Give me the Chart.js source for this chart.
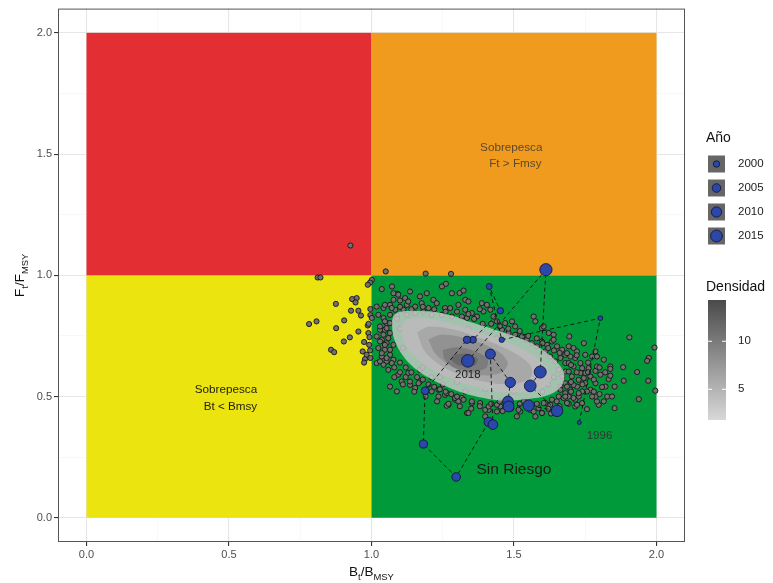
<!DOCTYPE html>
<html>
<head>
<meta charset="utf-8">
<script src="https://cdn.jsdelivr.net/npm/chart.js@4.4.1/dist/chart.umd.min.js"></script>
<style>
  html, body { margin: 0; padding: 0; background: #fff; }
  #wrap { width: 773px; height: 583px; }
</style>
</head>
<body>
<div id="wrap"><canvas id="kobe" width="773" height="583"></canvas></div>
<script>
// ejes
var xTicks = [0, 0.5, 1, 1.5, 2];
var yTicks = [0, 0.5, 1, 1.5, 2];
var gridVals = [0, 0.25, 0.5, 0.75, 1, 1.25, 1.5, 1.75, 2];
var quadB = [0, 1, 2];
var quadF = [0, 1, 2];

// trayectoria anual
var trajYear = [1996, 1997, 1998, 1999, 2000, 2001, 2002, 2003, 2004, 2005, 2007,
                2008, 2009, 2010, 2011, 2012, 2013, 2014, 2015, 2016, 2017, 2018];
var trajB = [1.729, 1.803, 1.457, 1.413, 1.452, 1.356, 1.335, 1.188, 1.182, 1.297, 1.411,
             1.426, 1.417, 1.487, 1.479, 1.481, 1.551, 1.651, 1.557, 1.592, 1.612, 1.338];
var trajF = [0.393, 0.823, 0.734, 0.954, 0.854, 0.734, 0.734, 0.524, 0.304, 0.168, 0.395,
             0.384, 0.675, 0.558, 0.480, 0.459, 0.463, 0.441, 0.544, 0.601, 1.023, 0.647];

// legenda
var legendYears = [2000, 2005, 2010, 2015];
var densTicks = [5, 10];
var densRange = [1.8, 14.3];

// simulaciones del ultimo año (B/Bmsy, F/Fmsy)
var mcPoints = [
  [0.926,1.123],[0.811,0.991],[0.821,0.991],[1.050,1.016],[1.001,0.981],[0.995,0.970],[0.987,0.961],
  [0.875,0.882],[0.932,0.902],[0.948,0.906],[0.944,0.888],[0.928,0.854],[0.954,0.854],[0.963,0.834],
  [0.996,0.861],[0.996,0.836],[0.781,0.799],[0.807,0.810],[0.904,0.814],[0.876,0.782],[0.954,0.768],
  [0.924,0.744],[0.903,0.727],[0.987,0.793],[0.989,0.762],[0.974,0.725],[0.992,0.713],[0.858,0.693],
  [0.869,0.683],[0.969,0.686],[0.983,0.672],[0.977,0.654],[0.974,0.640],[0.996,0.659],[0.990,0.800],
  [0.993,0.745],[0.995,0.690],
  [1.036,0.943],[1.072,0.954],[1.091,0.924],[1.077,0.899],[1.100,0.896],[1.118,0.906],[1.018,0.871],
  [1.042,0.865],[1.065,0.878],[1.083,0.858],[1.112,0.858],[1.124,0.878],[1.024,0.837],[1.042,0.824],
  [1.065,0.837],[1.089,0.833],[1.053,0.803],[1.030,0.775],[1.047,0.775],[1.065,0.762],[1.018,0.748],
  [1.036,0.734],[1.053,0.720],[1.077,0.713],[1.024,0.700],[1.047,0.693],[1.065,0.672],[1.036,0.665],
  [1.053,0.645],[1.077,0.652],[1.018,0.638],[1.042,0.631],
  [1.077,0.926],[1.135,0.933],[1.170,0.913],[1.194,0.926],[1.217,0.899],[1.247,0.954],[1.282,0.926],
  [1.329,0.899],[1.129,0.892],[1.153,0.871],[1.176,0.885],[1.200,0.865],[1.229,0.885],[1.258,0.865],
  [1.276,0.865],[1.305,0.878],[1.329,0.858],[1.047,0.878],[1.071,0.865],[1.124,0.837],[1.153,0.844],
  [1.182,0.851],[1.211,0.837],[1.247,0.837],[1.282,0.830],[1.317,0.830],[1.001,0.824],[1.047,0.810],
  [1.065,0.803],[1.030,0.789],[1.053,0.782],[1.042,0.755],[1.059,0.741],[1.030,0.727],[1.047,0.713],
  [1.065,0.693],[1.036,0.679],[1.053,0.659],[1.071,0.638],[1.030,0.645],[1.059,0.610],[1.094,0.590],
  [1.129,0.597],[1.106,0.562],[1.135,0.548],[1.170,0.562],[1.153,0.535],[1.089,0.521],[1.065,0.541],
  [1.211,0.521],[1.235,0.500],[1.258,0.507],[1.270,0.466],[1.293,0.487],[1.317,0.494],[1.329,0.521],
  [1.190,1.007],[1.279,1.006],[1.094,0.920],[1.261,0.965],[1.309,0.927],[1.323,0.937],
  [1.340,0.892],[1.387,0.885],[1.405,0.878],[1.417,0.858],[1.393,0.851],[1.352,0.844],[1.370,0.830],
  [1.335,0.824],[1.428,0.830],[1.440,0.810],[1.469,0.803],[1.493,0.810],[1.504,0.789],[1.458,0.775],
  [1.481,0.762],[1.504,0.755],[1.528,0.748],[1.545,0.734],[1.569,0.830],[1.575,0.810],[1.598,0.782],
  [1.622,0.762],[1.639,0.755],[1.563,0.720],[1.581,0.707],[1.598,0.727],[1.616,0.713],[1.633,0.727],
  [1.651,0.707],[1.669,0.693],[1.680,0.672],[1.610,0.686],[1.627,0.665],[1.645,0.645],[1.663,0.659],
  [1.680,0.638],[1.657,0.610],[1.680,0.603],[1.669,0.583],[1.680,0.555],[1.663,0.541],[1.680,0.514],
  [1.657,0.500],[1.633,0.487],[1.610,0.473],[1.586,0.452],[1.598,0.432],[1.575,0.418],[1.557,0.445],
  [1.522,0.438],[1.510,0.418],[1.452,0.459],[1.440,0.438],[1.411,0.445],[1.399,0.418],[1.381,0.473],
  [1.352,0.473],[1.335,0.432],
  [1.905,0.744],[1.993,0.702],[1.973,0.659],[1.967,0.647],[1.883,0.621],[1.932,0.601],[1.971,0.565],
  [1.996,0.524],[1.938,0.489],[1.885,0.565],[1.853,0.541],[1.853,0.452],[1.838,0.624],[1.838,0.614],
  [1.832,0.572],[1.838,0.586],[1.821,0.541],[1.809,0.539],[1.827,0.500],[1.844,0.500],[1.815,0.480],
  [1.797,0.466],[1.791,0.480],[1.786,0.500],[1.774,0.500],[1.768,0.528],[1.756,0.521],[1.739,0.521],
  [1.727,0.500],[1.715,0.487],[1.692,0.470],[1.756,0.448],[1.803,0.590],[1.786,0.606],[1.791,0.624],
  [1.762,0.617],[1.733,0.638],[1.739,0.617],[1.750,0.597],[1.768,0.583],[1.786,0.555],[1.750,0.555],
  [1.727,0.569],[1.703,0.583],[1.692,0.603],[1.709,0.624],[1.692,0.638],[1.715,0.659],[1.698,0.665],
  [1.750,0.672],[1.774,0.665],[1.786,0.686],[1.791,0.665],[1.692,0.707],[1.709,0.700],[1.721,0.686],
  [1.686,0.679],[1.733,0.597],[1.745,0.576],[1.721,0.541],[1.698,0.528],[1.692,0.500],[1.715,0.459],
  [1.739,0.473],[1.604,0.789],[1.639,0.734],[1.694,0.748],[1.745,0.720],[1.815,0.652],
  [1.135,0.562],[1.165,0.555],[1.235,0.528],[1.264,0.514],[1.293,0.494],[1.305,0.480],[1.323,0.487],
  [1.352,0.480],[1.399,0.445],[1.411,0.459],[1.340,0.432],[1.264,0.462],[1.440,0.466],[1.487,0.473],
  [1.516,0.445],[1.534,0.480],[1.569,0.438],[1.598,0.432],[1.604,0.473],[1.627,0.466],[1.674,0.494],
  [1.686,0.473],[1.709,0.494],[1.721,0.466],[1.663,0.528],[1.686,0.541],[1.709,0.548],[1.727,0.514],
  [1.100,0.600],[1.120,0.580],[1.140,0.600],[1.160,0.580],[1.180,0.570],[1.200,0.550],[1.220,0.540],
  [1.240,0.530],[1.260,0.520],[1.280,0.510],[1.300,0.500],[1.080,0.620],[1.100,0.640],[1.120,0.620],
  [1.080,0.580],[1.110,0.550],[1.150,0.520],[1.190,0.500],[1.230,0.480],[1.270,0.470],[1.310,0.460],
  [1.350,0.450],[1.380,0.460],[1.420,0.470],[1.450,0.480],[1.250,0.550],[1.210,0.580],[1.170,0.610],
  [1.360,0.820],[1.390,0.800],[1.420,0.800],[1.450,0.790],[1.480,0.780],[1.520,0.770],[1.550,0.750],
  [1.580,0.740],[1.600,0.720],[1.620,0.700],[1.640,0.690],[1.660,0.680],[1.300,0.850],[1.340,0.840],
  [1.380,0.860],[1.260,0.850],[1.220,0.860],[1.180,0.870],[1.140,0.860],[1.100,0.870],
  [1.700,0.560],[1.720,0.600],[1.740,0.550],[1.760,0.600],[1.780,0.570],[1.700,0.630],[1.720,0.670],
  [1.760,0.640],[1.800,0.620],[1.820,0.600],[1.780,0.520],[1.800,0.510],[1.700,0.520],[1.680,0.500],
  [1.650,0.480],[1.620,0.450],[1.580,0.470],[1.550,0.470],[1.520,0.470],[1.490,0.450],[1.460,0.440],
  [1.630,0.430],[1.660,0.460],
  [1.120,0.750],[1.150,0.700],[1.180,0.780],[1.200,0.720],[1.220,0.660],[1.250,0.780],[1.280,0.740],
  [1.300,0.700],[1.330,0.620],[1.360,0.580],[1.380,0.700],[1.400,0.640],[1.430,0.600],[1.450,0.660],
  [1.470,0.550],[1.500,0.620],[1.520,0.580],[1.550,0.650],[1.580,0.560],[1.600,0.600],[1.620,0.550],
  [1.180,0.620],[1.240,0.580],[1.300,0.560],[1.400,0.530],[1.500,0.520],[1.560,0.530],[1.100,0.780],
  [1.340,0.780],[1.440,0.740],[1.090,0.820],[1.110,0.700],[1.140,0.810],[1.600,0.520],[1.640,0.580]
];

// contornos de densidad (de afuera hacia adentro)
var dens1 = [[1.072,0.812],[1.080,0.838],[1.100,0.850],[1.150,0.854],[1.229,0.848],[1.290,0.831],
  [1.346,0.807],[1.420,0.781],[1.498,0.751],[1.570,0.715],[1.627,0.669],[1.664,0.623],[1.677,0.590],
  [1.669,0.548],[1.641,0.517],[1.600,0.499],[1.557,0.491],[1.503,0.485],[1.463,0.483],[1.410,0.490],
  [1.346,0.506],[1.290,0.528],[1.229,0.560],[1.172,0.598],[1.128,0.642],[1.094,0.698],[1.075,0.756],
  [1.072,0.812]];
var dens2 = [[1.105,0.795],[1.125,0.818],[1.180,0.824],[1.260,0.808],[1.340,0.780],[1.420,0.749],
  [1.500,0.713],[1.570,0.668],[1.617,0.617],[1.630,0.575],[1.603,0.538],[1.550,0.522],[1.480,0.518],
  [1.410,0.527],[1.340,0.546],[1.270,0.578],[1.200,0.620],[1.145,0.672],[1.112,0.730],[1.105,0.795]];
var dens3 = [[1.160,0.765],[1.200,0.788],[1.280,0.778],[1.360,0.750],[1.440,0.715],[1.510,0.674],
  [1.558,0.627],[1.561,0.585],[1.522,0.557],[1.450,0.552],[1.380,0.565],[1.310,0.590],[1.240,0.630],
  [1.185,0.690],[1.160,0.765]];
var dens4 = [[1.200,0.735],[1.240,0.755],[1.315,0.745],[1.390,0.718],[1.450,0.682],[1.478,0.640],
  [1.462,0.603],[1.410,0.587],[1.340,0.597],[1.275,0.628],[1.222,0.680],[1.200,0.735]];
var dens5 = [[1.250,0.692],[1.300,0.703],[1.360,0.688],[1.407,0.656],[1.402,0.618],[1.350,0.603],
  [1.292,0.618],[1.256,0.655],[1.250,0.692]];
var dens6 = [[1.283,0.670],[1.330,0.677],[1.372,0.656],[1.362,0.628],[1.310,0.628],[1.283,0.648],
  [1.283,0.670]];

var FONT = "'Liberation Sans', Arial, sans-serif";

function yearRadius(y) {
  return Math.sqrt(4 + 1.62 * (y - 1996));
}

function toXY(arr) {
  return arr.map(function (p) { return { x: p[0], y: p[1] }; });
}

var trajData = trajB.map(function (b, i) { return { x: b, y: trajF[i] }; });

var densColors = ['rgba(204,204,204,0.8)', 'rgba(186,186,186,0.9)', 'rgba(166,166,166,0.92)',
                  'rgba(145,145,145,0.94)', 'rgba(123,123,123,0.95)', 'rgba(104,104,104,0.95)'];
var densSets = [dens1, dens2, dens3, dens4, dens5, dens6].map(function (d, i) {
  return {
    type: 'line',
    data: toXY(d),
    showLine: true,
    fill: 'shape',
    backgroundColor: densColors[i],
    borderWidth: 0,
    borderColor: 'rgba(0,0,0,0)',
    pointRadius: 0,
    tension: 0.3,
    order: 7 - i
  };
});

function drawSub(ctx, parts, x, y, size) {
  var w = 0;
  parts.forEach(function (p) {
    ctx.font = (p[1] ? size * 0.7 : size) + 'px ' + FONT;
    w += ctx.measureText(p[0]).width;
  });
  var cx = x - w / 2;
  ctx.textAlign = 'left';
  ctx.textBaseline = 'alphabetic';
  parts.forEach(function (p) {
    ctx.font = (p[1] ? size * 0.7 : size) + 'px ' + FONT;
    ctx.fillText(p[0], cx, y + (p[1] ? size * 0.3 : 0));
    cx += ctx.measureText(p[0]).width;
  });
}

var kobePlugin = {
  id: 'kobe',
  beforeDatasetsDraw: function (chart) {
    var ctx = chart.ctx, xs = chart.scales.x, ys = chart.scales.y;
    var cols = [['#ebe40e', '#e32f33'], ['#009a3a', '#f09b1e']];
    ctx.save();
    for (var i = 0; i < 2; i++) {
      for (var j = 0; j < 2; j++) {
        var x0 = xs.getPixelForValue(quadB[i]), x1 = xs.getPixelForValue(quadB[i + 1]);
        var y0 = ys.getPixelForValue(quadF[j + 1]), y1 = ys.getPixelForValue(quadF[j]);
        ctx.fillStyle = cols[i][j];
        ctx.fillRect(x0, y0, x1 - x0, y1 - y0);
      }
    }
    ctx.restore();
  },
  afterDatasetsDraw: function (chart) {
    var ctx = chart.ctx, xs = chart.scales.x, ys = chart.scales.y;
    ctx.save();
    ctx.textBaseline = 'middle';
    ctx.textAlign = 'left';
    ctx.font = '11.7px ' + FONT;
    ctx.fillStyle = '#5b4a2e';
    ctx.fillText('Sobrepesca', xs.getPixelForValue(1.381), ys.getPixelForValue(1.527));
    ctx.fillText('Ft > Fmsy', xs.getPixelForValue(1.413), ys.getPixelForValue(1.460));
    ctx.fillStyle = '#1e1e10';
    ctx.fillText('Sobrepesca', xs.getPixelForValue(0.380), ys.getPixelForValue(0.528));
    ctx.fillText('Bt < Bmsy', xs.getPixelForValue(0.411), ys.getPixelForValue(0.458));
    ctx.textAlign = 'center';
    ctx.fillStyle = '#1a1a1a';
    ctx.font = '15.5px ' + FONT;
    ctx.fillText('Sin Riesgo', xs.getPixelForValue(1.50), ys.getPixelForValue(0.198));
    ctx.font = '11.5px ' + FONT;
    ctx.fillStyle = '#222';
    var last = trajData.length - 1;
    ctx.fillText(String(trajYear[last]), xs.getPixelForValue(trajB[last]), ys.getPixelForValue(trajF[last] - 0.058));
    ctx.fillStyle = '#333';
    ctx.fillText(String(trajYear[0]), xs.getPixelForValue(trajB[0] + 0.071), ys.getPixelForValue(trajF[0] - 0.057));
    ctx.restore();
  },
  afterDraw: function (chart) {
    var ctx = chart.ctx, a = chart.chartArea;
    ctx.save();
    // borde del panel
    ctx.strokeStyle = '#555';
    ctx.lineWidth = 1;
    ctx.strokeRect(a.left + 0.5, a.top + 0.5, a.right - a.left - 1, a.bottom - a.top - 1);
    // titulos de ejes
    ctx.fillStyle = '#111';
    drawSub(ctx, [['B', 0], ['t', 1], ['/B', 0], ['MSY', 1]], (a.left + a.right) / 2, 576, 13.5);
    ctx.translate(24, (a.top + a.bottom) / 2);
    ctx.rotate(-Math.PI / 2);
    drawSub(ctx, [['F', 0], ['t', 1], ['/F', 0], ['MSY', 1]], 0, 0, 13.5);
    ctx.restore();

    // leyenda Año
    ctx.save();
    ctx.fillStyle = '#111';
    ctx.font = '14px ' + FONT;
    ctx.textAlign = 'left';
    ctx.textBaseline = 'middle';
    ctx.fillText('Año', 706, 138);
    legendYears.forEach(function (yr, i) {
      var cy = 164 + i * 24;
      ctx.fillStyle = '#666';
      ctx.fillRect(708, cy - 8.5, 17, 17);
      ctx.beginPath();
      ctx.arc(716.5, cy, yearRadius(yr), 0, Math.PI * 2);
      ctx.fillStyle = '#2a47a9';
      ctx.fill();
      ctx.strokeStyle = '#101030';
      ctx.lineWidth = 0.8;
      ctx.stroke();
      ctx.fillStyle = '#222';
      ctx.font = '11.5px ' + FONT;
      ctx.fillText(String(yr), 738, cy);
    });
    // leyenda Densidad
    ctx.font = '14px ' + FONT;
    ctx.fillStyle = '#111';
    ctx.fillText('Densidad', 706, 287);
    var top = 300, bot = 420;
    var g = ctx.createLinearGradient(0, top, 0, bot);
    g.addColorStop(0, '#4a4a4a');
    g.addColorStop(1, '#d8d8d8');
    ctx.fillStyle = g;
    ctx.fillRect(708, top, 18, bot - top);
    densTicks.forEach(function (v) {
      var ty = bot - (v - densRange[0]) / (densRange[1] - densRange[0]) * (bot - top);
      ctx.strokeStyle = '#fff';
      ctx.lineWidth = 1;
      ctx.beginPath();
      ctx.moveTo(708, ty); ctx.lineTo(712, ty);
      ctx.moveTo(722, ty); ctx.lineTo(726, ty);
      ctx.stroke();
      ctx.fillStyle = '#222';
      ctx.font = '11.5px ' + FONT;
      ctx.fillText(String(v), 738, ty);
    });
    ctx.restore();
  }
};

function isMajor(v, list) {
  return list.some(function (t) { return Math.abs(t - v) < 1e-6; });
}

function axisOpts(majors, fitFn) {
  return {
    type: 'linear',
    min: -0.1,
    max: 2.1,
    afterBuildTicks: function (s) {
      s.ticks = gridVals.map(function (v) { return { value: v }; });
    },
    afterFit: fitFn,
    border: { display: false },
    grid: {
      color: function (c) { return isMajor(c.tick.value, majors) ? '#e6e6e6' : '#f3f3f3'; },
      lineWidth: function (c) { return isMajor(c.tick.value, majors) ? 1.1 : 0.6; },
      tickColor: function (c) { return isMajor(c.tick.value, majors) ? '#333' : 'rgba(0,0,0,0)'; },
      tickLength: 4,
      drawTicks: true
    },
    ticks: {
      autoSkip: false,
      maxRotation: 0,
      padding: 2,
      color: '#4d4d4d',
      font: { family: FONT, size: 11 },
      callback: function (v) { return isMajor(v, majors) ? v.toFixed(1) : ''; }
    }
  };
}

new Chart(document.getElementById('kobe').getContext('2d'), {
  type: 'scatter',
  data: {
    datasets: [
      {
        data: trajData,
        pointRadius: function (c) { return yearRadius(trajYear[c.dataIndex]); },
        pointBackgroundColor: '#2a47a9',
        pointBorderColor: '#101030',
        pointBorderWidth: 0.8,
        order: 0
      },
      {
        type: 'line',
        data: trajData,
        showLine: true,
        fill: false,
        borderColor: '#111',
        borderWidth: 0.9,
        borderDash: [4, 3],
        pointRadius: 0,
        tension: 0,
        order: 1
      }
    ].concat(densSets).concat([
      {
        data: toXY(mcPoints),
        pointRadius: 2.6,
        pointBackgroundColor: '#717171',
        pointBorderColor: '#151515',
        pointBorderWidth: 0.9,
        order: 8
      }
    ])
  },
  options: {
    responsive: false,
    animation: false,
    layout: { padding: { top: 8, right: 88, left: 0, bottom: 0 } },
    plugins: {
      legend: { display: false },
      tooltip: { enabled: false }
    },
    scales: {
      x: axisOpts(xTicks, function (s) { s.height = 41; }),
      y: axisOpts(yTicks, function (s) { s.width = 58; })
    }
  },
  plugins: [kobePlugin]
});
</script>
</body>
</html>
